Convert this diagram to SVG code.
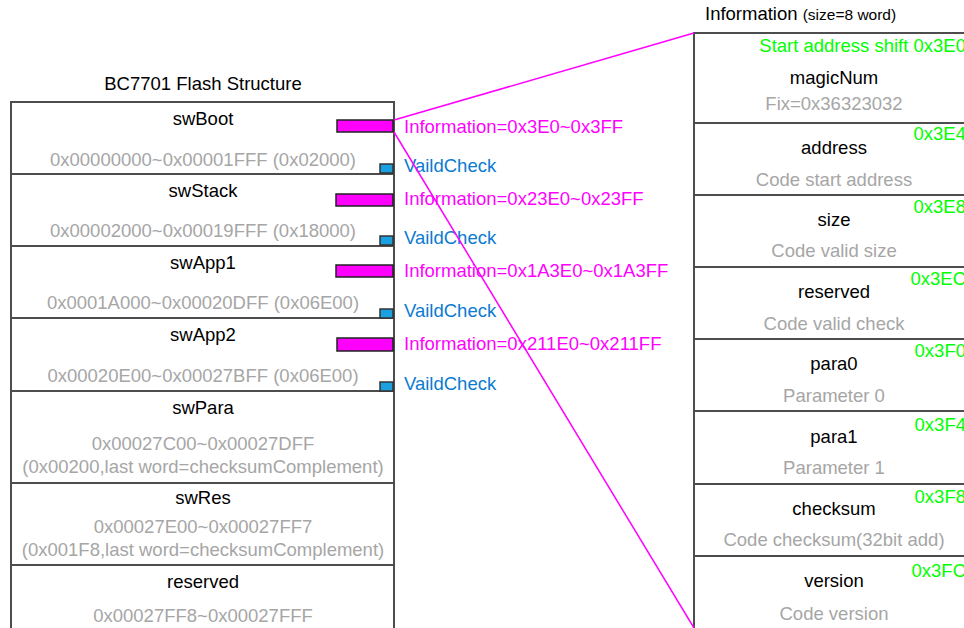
<svg xmlns="http://www.w3.org/2000/svg" width="964" height="628" viewBox="0 0 964 628">
<style>
text{font-family:"Liberation Sans",Arial,sans-serif;font-size:18.5px}
.box{fill:#fff;stroke:#4d4d4d;stroke-width:2}
.nm{fill:#000;text-anchor:middle}
.ds{fill:#a6a6a6;text-anchor:middle}
.gr{fill:#00ff00;text-anchor:end}
.info{fill:#ff00ff}
.vc{fill:#0b7bd0}
.bar{fill:#ff00ff;stroke:#222;stroke-width:1.5}
.sq{fill:#1ba1e2;stroke:#333;stroke-width:1.5}
.ln{stroke:#ff00ff;stroke-width:1.5;fill:none}
</style>
<rect width="964" height="628" fill="#fff"/>
<text x="203" y="90" class="nm">BC7701 Flash Structure</text>
<text x="705" y="20" fill="#000">Information <tspan font-size="15.5">(size=8 word)</tspan></text>

<g id="swBoot"><rect class="box" x="11" y="102" width="383" height="72"/><text x="203" y="125" class="nm">swBoot</text><text x="203" y="166" class="ds">0x00000000~0x00001FFF (0x02000)</text></g>
<g id="swStack"><rect class="box" x="11" y="174" width="383" height="72"/><text x="203" y="197" class="nm">swStack</text><text x="203" y="237" class="ds">0x00002000~0x00019FFF (0x18000)</text></g>
<g id="swApp1"><rect class="box" x="11" y="246" width="383" height="72"/><text x="203" y="269" class="nm">swApp1</text><text x="203" y="309" class="ds">0x0001A000~0x00020DFF (0x06E00)</text></g>
<g id="swApp2"><rect class="box" x="11" y="318" width="383" height="73"/><text x="203" y="341" class="nm">swApp2</text><text x="203" y="382" class="ds">0x00020E00~0x00027BFF (0x06E00)</text></g>
<g id="swPara"><rect class="box" x="11" y="391" width="383" height="92"/><text x="203" y="414" class="nm">swPara</text><text x="203" y="450" class="ds">0x00027C00~0x00027DFF</text><text x="203" y="473" class="ds">(0x00200,last word=checksumComplement)</text></g>
<g id="swRes"><rect class="box" x="11" y="483" width="383" height="82"/><text x="203" y="504" class="nm">swRes</text><text x="203" y="533" class="ds">0x00027E00~0x00027FF7</text><text x="203" y="556" class="ds">(0x001F8,last word=checksumComplement)</text></g>
<g id="reserved0"><rect class="box" x="11" y="565" width="383" height="80"/><text x="203" y="588" class="nm">reserved</text><text x="203" y="622" class="ds">0x00027FF8~0x00027FFF</text></g>

<g id="markers">
<rect class="bar" x="337" y="120" width="56" height="12"/>
<rect class="bar" x="336" y="194" width="57" height="12"/>
<rect class="bar" x="336" y="265" width="57" height="12"/>
<rect class="bar" x="337" y="338" width="56" height="13"/>
<rect class="sq" x="380" y="164" width="13" height="9"/>
<rect class="sq" x="380" y="236" width="13" height="9"/>
<rect class="sq" x="380" y="309" width="13" height="9"/>
<rect class="sq" x="380" y="382" width="13" height="9"/>
</g>

<g id="labels">
<text x="404" y="133" class="info">Information=0x3E0~0x3FF</text>
<text x="404" y="172" class="vc">VaildCheck</text>
<text x="404" y="205" class="info">Information=0x23E0~0x23FF</text>
<text x="404" y="244" class="vc">VaildCheck</text>
<text x="404" y="277" class="info">Information=0x1A3E0~0x1A3FF</text>
<text x="404" y="317" class="vc">VaildCheck</text>
<text x="404" y="350" class="info">Information=0x211E0~0x211FF</text>
<text x="404" y="390" class="vc">VaildCheck</text>
</g>

<g id="magicNum"><rect class="box" x="694" y="33" width="290" height="90"/><text x="966" y="52" class="gr">Start address shift 0x3E0</text><text x="834" y="84" class="nm">magicNum</text><text x="834" y="110" class="ds">Fix=0x36323032</text></g>
<g id="address"><rect class="box" x="694" y="123" width="290" height="72"/><text x="966" y="140" class="gr">0x3E4</text><text x="834" y="154" class="nm">address</text><text x="834" y="186" class="ds">Code start address</text></g>
<g id="size"><rect class="box" x="694" y="195" width="290" height="72"/><text x="966" y="213" class="gr">0x3E8</text><text x="834" y="226" class="nm">size</text><text x="834" y="257" class="ds">Code valid size</text></g>
<g id="reserved1"><rect class="box" x="694" y="267" width="290" height="72"/><text x="966" y="285" class="gr">0x3EC</text><text x="834" y="298" class="nm">reserved</text><text x="834" y="330" class="ds">Code valid check</text></g>
<g id="para0"><rect class="box" x="694" y="339" width="290" height="72"/><text x="966" y="357" class="gr">0x3F0</text><text x="834" y="370" class="nm">para0</text><text x="834" y="402" class="ds">Parameter 0</text></g>
<g id="para1"><rect class="box" x="694" y="411" width="290" height="73"/><text x="966" y="431" class="gr">0x3F4</text><text x="834" y="443" class="nm">para1</text><text x="834" y="474" class="ds">Parameter 1</text></g>
<g id="checksum"><rect class="box" x="694" y="484" width="290" height="72"/><text x="966" y="503" class="gr">0x3F8</text><text x="834" y="515" class="nm">checksum</text><text x="834" y="546" class="ds">Code checksum(32bit add)</text></g>
<g id="version"><rect class="box" x="694" y="556" width="290" height="90"/><text x="966" y="577" class="gr">0x3FC</text><text x="834" y="587" class="nm">version</text><text x="834" y="620" class="ds">Code version</text></g>

<g id="connectors">
<line class="ln" x1="394" y1="120" x2="694" y2="33"/>
<line class="ln" x1="394" y1="132" x2="694" y2="628"/>
</g>
</svg>
